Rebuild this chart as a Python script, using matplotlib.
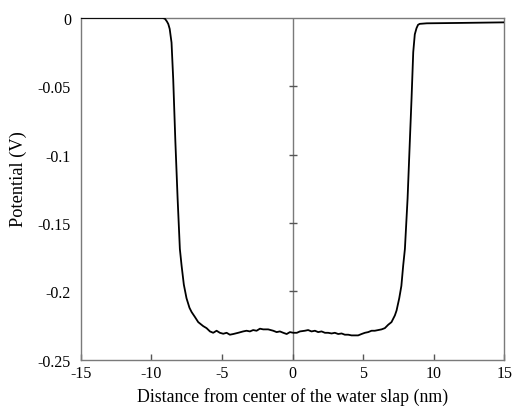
import matplotlib
matplotlib.use("Agg")
import matplotlib.pyplot as plt

# Potential profile across the water slab
distance_nm = [-15.0, -12.0, -9.6, -9.2, -9.04, -8.9, -8.8, -8.7, -8.57, -8.45, -8.3, -8.14,
               -7.98, -7.86, -7.7, -7.51, -7.3, -7.15, -6.91, -6.68, -6.33, -6.09, -5.85,
               -5.62, -5.38, -5.15, -4.91, -4.67, -4.44, -4.20, -3.85, -3.50, -3.26, -3.02,
               -2.79, -2.55, -2.31, -2.08, -1.73, -1.37, -1.13, -0.90, -0.66, -0.42, -0.19,
               0.05, 0.30, 0.52, 0.87, 1.10, 1.34, 1.58, 1.81, 2.05, 2.29, 2.52, 2.76, 2.99,
               3.23, 3.47, 3.70, 3.94, 4.17, 4.41, 4.64, 4.88, 5.12, 5.35, 5.59, 5.82, 6.06,
               6.30, 6.53, 6.77, 7.00, 7.24, 7.36, 7.55, 7.70, 7.83, 7.95, 8.14, 8.30, 8.42,
               8.54, 8.65, 8.77, 8.88, 9.0, 9.5, 12.0, 15.0]
potential_V = [0.0, 0.0, 0.0, 0.0, -0.0005, -0.0025, -0.0044, -0.008, -0.018, -0.045, -0.090, -0.132,
               -0.169, -0.181, -0.195, -0.205, -0.212, -0.2151, -0.2188, -0.2225, -0.2254, -0.2269, -0.2293,
               -0.2303, -0.2288, -0.2303, -0.2310, -0.2303, -0.2317, -0.2312, -0.2303, -0.2293, -0.2288, -0.2293,
               -0.2283, -0.2288, -0.2273, -0.2278, -0.2278, -0.2288, -0.2298, -0.2293, -0.2303, -0.2312, -0.2298,
               -0.2303, -0.2303, -0.2293, -0.2288, -0.2283, -0.2293, -0.2288, -0.2298, -0.2293, -0.2303, -0.2303, -0.2308, -0.2303,
               -0.2312, -0.2308, -0.2317, -0.2317, -0.2322, -0.2322, -0.2322, -0.2312, -0.2303, -0.2298, -0.2288, -0.2288, -0.2283,
               -0.2278, -0.2269, -0.2244, -0.2225, -0.2176, -0.2140, -0.205, -0.196, -0.181, -0.169, -0.132, -0.090, -0.059,
               -0.025, -0.012, -0.0075, -0.0050, -0.0043, -0.0039, -0.0036, -0.0032]

x_ticks = [-15, -10, -5, 0, 5, 10, 15]
x_tick_labels = ["-15", "-10", "-5", "0", "5", "10", "15"]
y_ticks = [0, -0.05, -0.1, -0.15, -0.2, -0.25]
y_tick_labels = ["0", "-0.05", "-0.1", "-0.15", "-0.2", "-0.25"]
center_ticks = [-0.05, -0.1, -0.15, -0.2]

plt.rcParams['font.family'] = ['Liberation Serif', 'DejaVu Serif']

fig = plt.figure(figsize=(5.14, 4.10), dpi=100)
ax = fig.add_axes([0.157, 0.1202, 0.8245, 0.8335])

spine_col = '#7a7a7a'
ax.axvline(0, color=spine_col, lw=1.0, zorder=1)
ax.plot([0] * len(center_ticks), center_ticks, linestyle='none', marker='_',
        markersize=6, markeredgewidth=1.0, color='#555555', zorder=1)

ax.plot(distance_nm, potential_V, color='black', lw=1.3, zorder=3, solid_joinstyle='round')

ax.set_xlim(-15, 15)
ax.set_ylim(-0.25, 0)
ax.set_xticks(x_ticks)
ax.set_xticklabels(x_tick_labels)
ax.set_yticks(y_ticks)
ax.set_yticklabels(y_tick_labels)

for s in ax.spines.values():
    s.set_color(spine_col)
    s.set_linewidth(1.0)

ax.tick_params(axis='x', direction='in', length=4, width=1.0, color='#555555',
               labelsize=11.5, pad=4)
ax.tick_params(axis='y', length=0, labelsize=11.5, pad=7)

fig.text(0.5700, 0.032, "Distance from center of the water slap (nm)", ha='center', va='center',
         fontsize=12.8)
fig.text(0.035, 0.563, "Potential (V)", ha='center', va='center', rotation=90, fontsize=13.2)

fig.savefig("out.png", dpi=100)
